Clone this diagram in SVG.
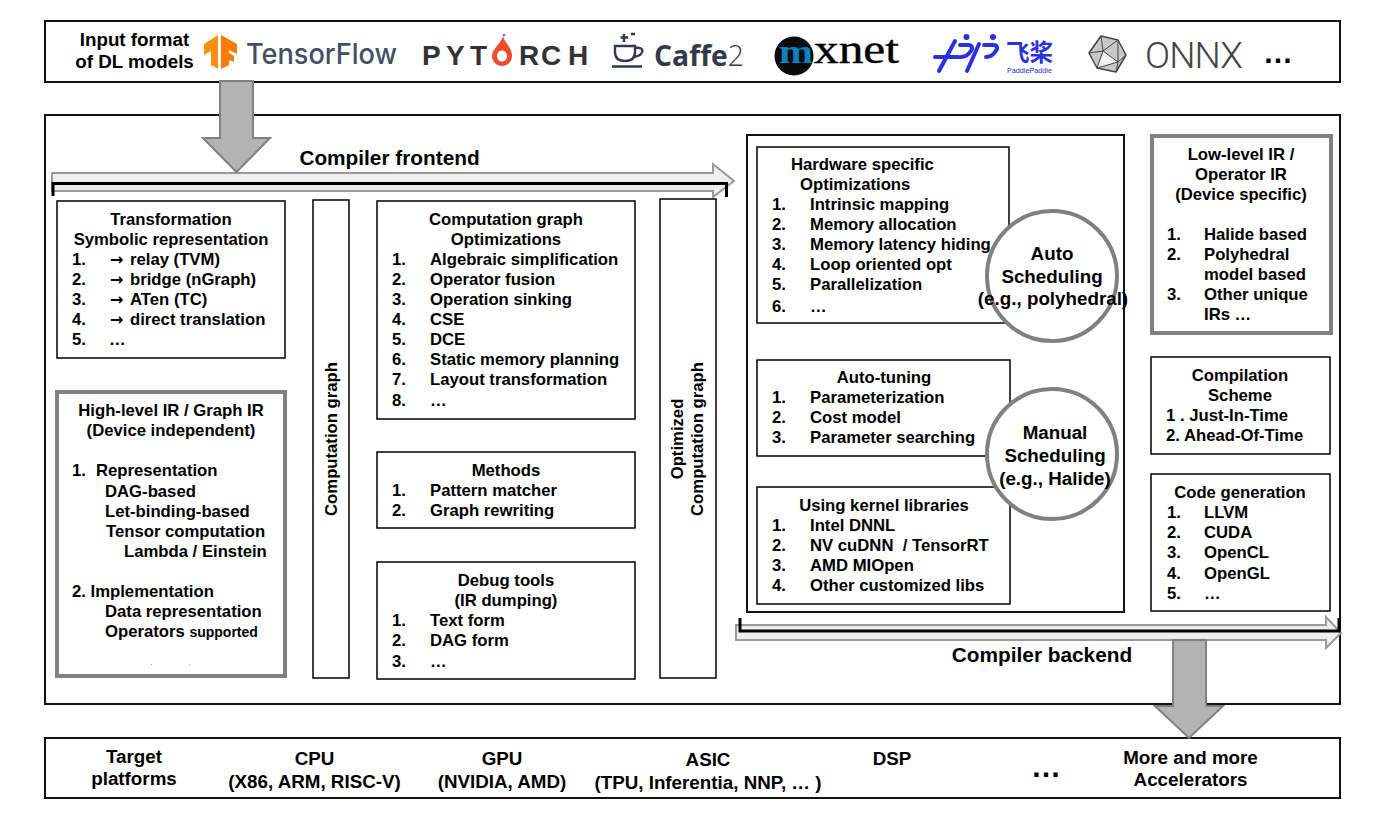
<svg xmlns="http://www.w3.org/2000/svg" width="1394" height="823" viewBox="0 0 1394 823">
<style>
text{font-family:"Liberation Sans",Arial,sans-serif;font-weight:700;font-size:16.7px;fill:#000;white-space:pre}
.c{text-anchor:middle}
.l{font-size:20.8px}
.m{font-size:18.8px}
.a{font-family:"DejaVu Sans",sans-serif;font-size:16px}
.box{fill:#fff;stroke:#000;stroke-width:1.5}
.frame{fill:#fff;stroke:#111;stroke-width:2}
.ir{fill:#fff;stroke:#808080;stroke-width:4}
.block{fill:#b3b3b3;stroke:#808080;stroke-width:2}
.band{fill:#eee;stroke:#9a9a9a;stroke-width:2}
.brk{fill:none;stroke:#000;stroke-width:3}
.circ{fill:#fff;stroke:#808080;stroke-width:4}
.pp{fill:none;stroke:#2932e1;stroke-width:4;stroke-linecap:round}
.pt{font-size:28px;fill:#333}
</style>
<rect width="1394" height="823" fill="#fff"/>
<g id="input-bar">
<rect class="frame" x="45" y="21" width="1295" height="61"/>
<text class="c m" x="134.500" y="46">Input format</text>
<text class="c m" x="134.500" y="68">of DL models</text>
</g>
<g id="logo-tensorflow">
<polygon points="204,44 218,35 218,69 211,65 211,51 204,55" fill="#ff8f0f"/>
<polygon points="221,35 237,44 237,54 229,50 229,53 234,56 234,62 229,60 229,65 221,69" fill="#ff7a00"/>
<text x="246" y="64" style="font-family:Inter,'Liberation Sans',sans-serif;font-weight:500;font-size:29px;fill:#425066" textLength="151" lengthAdjust="spacingAndGlyphs">TensorFlow</text>
</g>
<g id="logo-pytorch">
<text class="pt" x="422 446 470" y="65">PYT</text>
<path d="M503,36 C504,42 512,47 512,56 C512,62 507,66 502,66 C497,66 492,62 492,56 C492,49 500,45 503,36 Z M502,50.500 C499,50.500 497,53 497,56 C497,59 499,61.500 502,61.500 C505,61.500 507,59 507,56 C507,53 505,50.500 502,50.500 Z" fill="#ee4c2c" fill-rule="evenodd"/>
<circle cx="504" cy="35" r="1.300" fill="#9b4fc0"/>
<text class="pt" x="519 541 568" y="65">RCH</text>
</g>
<g id="logo-caffe2">
<path d="M615,46 H635 V52 C635,58 631,61 625,61 C619,61 615,58 615,52 Z M635,48 C645,46 645,55 634,57 M612,66.500 H642 M624,42 V34 M620.500,37.500 H628 M631,34 H635" fill="none" stroke="#323a4b" stroke-width="2.400"/>
<text x="654" y="66" style="font-family:'Open Sans','Liberation Sans',sans-serif;font-weight:700;font-size:29px;fill:#323a4b" textLength="90" lengthAdjust="spacingAndGlyphs">Caffe<tspan style="font-weight:300">2</tspan></text>
</g>
<g id="logo-mxnet">
<circle cx="794" cy="56" r="19.500" fill="#0a0a0a"/>
<text x="779" y="63" style="font-family:'Liberation Serif',serif;font-weight:700;font-size:34px;fill:#0f7fc0" textLength="34" lengthAdjust="spacingAndGlyphs">m</text>
<text x="814" y="63" style="font-family:'Liberation Serif',serif;font-weight:400;font-size:40px;fill:#000;stroke:#000;stroke-width:.4" textLength="85" lengthAdjust="spacingAndGlyphs">xnet</text>
</g>
<g id="logo-paddle">
<path class="pp" d="M935,57 H958 M955,41 L939,71 M960,45 H968 C973,45 973,49 970,52 C968,55 964,57 961,57 M979,44 L967,71 M984,45 H993 C998,45 998,49 995,52 C993,55 989,57 986,57"/>
<circle cx="966.500" cy="37" r="3" fill="#2932e1"/>
<circle cx="993" cy="37" r="3" fill="#2932e1"/>
<text x="1006" y="61" style="font-family:'Noto Sans CJK SC',sans-serif;font-weight:700;font-size:23.500px;fill:#2932e1">飞桨</text>
<text x="1007" y="73" style="font-weight:400;font-size:7.500px;fill:#2932e1" textLength="45" lengthAdjust="spacingAndGlyphs">PaddlePaddle</text>
</g>
<g id="logo-onnx">
<polygon points="1101,36 1118,40 1126,55 1116,72 1097,68 1089,53" fill="#c8c8c8" stroke="#444" stroke-width="1.500" stroke-linejoin="round"/>
<polygon points="1103,51 1118,62 1097,68" fill="#f4f4f4" stroke="#444" stroke-width="1"/>
<path d="M1101,36 L1103,51 L1118,40 M1089,53 L1103,51 M1118,40 L1118,62 L1126,55 M1118,62 L1116,72 M1101,36 L1089,53" fill="none" stroke="#444" stroke-width="1"/>
<text x="1145" y="68" style="font-family:Roboto,'Liberation Sans',sans-serif;font-weight:300;font-size:37px;fill:#444" textLength="98" lengthAdjust="spacing">ONNX</text>
<text x="1263" y="63" style="font-size:30px">…</text>
</g>
<g id="main-frame"><rect class="frame" x="45" y="115" width="1295" height="589"/></g>
<g id="target-bar">
<rect class="frame" x="45" y="738" width="1295" height="60"/>
<text class="c m" x="134" y="763">Target</text>
<text class="c m" x="134" y="785">platforms</text>
<text class="c m" x="314.500" y="765">CPU</text>
<text class="c m" x="314.500" y="788">(X86, ARM, RISC-V)</text>
<text class="c m" x="502" y="765">GPU</text>
<text class="c m" x="502" y="788">(NVIDIA, AMD)</text>
<text class="c m" x="708" y="766">ASIC</text>
<text class="c m" x="708" y="789">(TPU, Inferentia, NNP, … )</text>
<text class="c m" x="892" y="765">DSP</text>
<text x="1031" y="777" style="font-size:30px">…</text>
<text class="c m" x="1190.500" y="764">More and more</text>
<text class="c m" x="1190.500" y="786">Accelerators</text>
</g>
<g id="connectors">
<path class="band" d="M52,173 H713 V164 L734,181 L713,197 V191 H52 Z"/>
<path class="brk" d="M53,196 V183.500 H726.500 V197"/>
<path class="band" d="M736,625 H1326 V617 L1341,633 L1326,648 V640 H736 Z"/>
<path class="brk" d="M740,618 V631 H1339 V618"/>
<polygon class="block" points="220,81 253,81 253,138 270,138 236.500,172 203,138 220,138"/>
<polygon class="block" points="1173,640 1206,640 1206,706 1223,706 1189,738 1155,706 1173,706"/>
</g>
<g id="compiler-labels">
<text class="c l" x="389.500" y="165">Compiler frontend</text>
<text class="c l" x="1042" y="662">Compiler backend</text>
</g>
<g id="transformation">
<rect class="box" x="57" y="201" width="228" height="157"/>
<text class="c" x="171" y="225">Transformation</text>
<text class="c" x="171" y="245">Symbolic representation</text>
<text x="72" y="265">1.</text><text class="a" x="110" y="265">→</text><text x="130" y="265">relay (TVM)</text>
<text x="72" y="285">2.</text><text class="a" x="110" y="285">→</text><text x="130" y="285">bridge (nGraph)</text>
<text x="72" y="305">3.</text><text class="a" x="110" y="305">→</text><text x="130" y="305">ATen (TC)</text>
<text x="72" y="325">4.</text><text class="a" x="110" y="325">→</text><text x="130" y="325">direct translation</text>
<text x="72" y="345">5.</text><text x="109" y="345">…</text>
</g>
<g id="high-level-ir">
<rect class="ir" x="57" y="392" width="228" height="284"/>
<text class="c" x="171" y="416">High-level IR / Graph IR</text>
<text class="c" x="171" y="436">(Device independent)</text>
<text x="72" y="476">1.</text><text x="96" y="476">Representation</text>
<text x="105" y="497">DAG-based</text>
<text x="105" y="517">Let-binding-based</text>
<text x="106" y="537">Tensor computation</text>
<text x="124" y="557">Lambda / Einstein</text>
<text x="72" y="597">2. Implementation</text>
<text x="105" y="617">Data representation</text>
<text x="105" y="637">Operators <tspan style="font-size:14px">supported</tspan></text>
<rect x="151" y="664" width="1" height="1" fill="#999"/>
<rect x="189" y="664" width="1" height="1" fill="#cc0"/>
</g>
<g id="computation-graph">
<rect class="box" x="313" y="200" width="36" height="478"/>
<text class="c" transform="translate(337,439) rotate(-90)">Computation graph</text>
</g>
<g id="graph-optimizations">
<rect class="box" x="377" y="201" width="258" height="218"/>
<text class="c" x="506" y="225">Computation graph</text>
<text class="c" x="506" y="245">Optimizations</text>
<text x="392" y="265">1.</text><text x="430" y="265">Algebraic simplification</text>
<text x="392" y="285">2.</text><text x="430" y="285">Operator fusion</text>
<text x="392" y="305">3.</text><text x="430" y="305">Operation sinking</text>
<text x="392" y="325">4.</text><text x="430" y="325">CSE</text>
<text x="392" y="345">5.</text><text x="430" y="345">DCE</text>
<text x="392" y="365">6.</text><text x="430" y="365">Static memory planning</text>
<text x="392" y="385">7.</text><text x="430" y="385">Layout transformation</text>
<text x="392" y="406">8.</text><text x="430" y="406">…</text>
</g>
<g id="methods">
<rect class="box" x="377" y="452" width="258" height="76"/>
<text class="c" x="506" y="476">Methods</text>
<text x="392" y="496">1.</text><text x="430" y="496">Pattern matcher</text>
<text x="392" y="516">2.</text><text x="430" y="516">Graph rewriting</text>
</g>
<g id="debug-tools">
<rect class="box" x="377" y="562" width="258" height="117"/>
<text class="c" x="506" y="586">Debug tools</text>
<text class="c" x="506" y="606">(IR dumping)</text>
<text x="392" y="626">1.</text><text x="430" y="626">Text form</text>
<text x="392" y="646">2.</text><text x="430" y="646">DAG form</text>
<text x="392" y="667">3.</text><text x="430" y="667">…</text>
</g>
<g id="optimized-graph">
<rect class="box" x="660" y="199" width="56" height="479"/>
<text class="c" transform="translate(683,439) rotate(-90)">Optimized</text>
<text class="c" transform="translate(703,439) rotate(-90)">Computation graph</text>
</g>
<g id="backend-frame"><rect class="frame" x="747" y="135" width="377" height="477"/></g>
<g id="hardware-optimizations">
<rect class="box" x="757" y="147" width="252" height="176"/>
<text x="791" y="170">Hardware specific</text>
<text x="800" y="190">Optimizations</text>
<text x="772" y="210">1.</text><text x="810" y="210">Intrinsic mapping</text>
<text x="772" y="230">2.</text><text x="810" y="230">Memory allocation</text>
<text x="772" y="250">3.</text><text x="810" y="250">Memory latency hiding</text>
<text x="772" y="270">4.</text><text x="810" y="270">Loop oriented opt</text>
<text x="772" y="290">5.</text><text x="810" y="290">Parallelization</text>
<text x="772" y="312">6.</text><text x="810" y="312">…</text>
</g>
<g id="auto-tuning">
<rect class="box" x="757" y="360" width="253" height="96"/>
<text class="c" x="884" y="383">Auto-tuning</text>
<text x="772" y="403">1.</text><text x="810" y="403">Parameterization</text>
<text x="772" y="423">2.</text><text x="810" y="423">Cost model</text>
<text x="772" y="443">3.</text><text x="810" y="443">Parameter searching</text>
</g>
<g id="kernel-libraries">
<rect class="box" x="757" y="487" width="253" height="117"/>
<text class="c" x="884" y="511">Using kernel libraries</text>
<text x="772" y="531">1.</text><text x="810" y="531">Intel DNNL</text>
<text x="772" y="551">2.</text><text x="810" y="551">NV cuDNN  / TensorRT</text>
<text x="772" y="571">3.</text><text x="810" y="571">AMD MIOpen</text>
<text x="772" y="591">4.</text><text x="810" y="591">Other customized libs</text>
</g>
<g id="auto-scheduling">
<circle class="circ" cx="1052" cy="276" r="65"/>
<text class="c m" x="1052" y="260">Auto</text>
<text class="c m" x="1052" y="283">Scheduling</text>
<text class="c m" x="1053" y="305">(e.g., polyhedral)</text>
</g>
<g id="manual-scheduling">
<circle class="circ" cx="1052" cy="454" r="65"/>
<text class="c m" x="1055" y="439">Manual</text>
<text class="c m" x="1055" y="462">Scheduling</text>
<text class="c m" x="1055" y="485">(e.g., Halide)</text>
</g>
<g id="low-level-ir">
<rect class="ir" x="1152" y="136" width="179" height="197"/>
<text class="c" x="1241" y="160">Low-level IR /</text>
<text class="c" x="1241" y="180">Operator IR</text>
<text class="c" x="1241" y="200">(Device specific)</text>
<text x="1167" y="240">1.</text><text x="1204" y="240">Halide based</text>
<text x="1167" y="260">2.</text><text x="1204" y="260">Polyhedral</text>
<text x="1204" y="280">model based</text>
<text x="1167" y="300">3.</text><text x="1204" y="300">Other unique</text>
<text x="1204" y="320">IRs …</text>
</g>
<g id="compilation-scheme">
<rect class="box" x="1151" y="357" width="179" height="97"/>
<text class="c" x="1240" y="381">Compilation</text>
<text class="c" x="1240" y="401">Scheme</text>
<text x="1166" y="421">1 . Just-In-Time</text>
<text x="1166" y="441">2. Ahead-Of-Time</text>
</g>
<g id="code-generation">
<rect class="box" x="1151" y="474" width="179" height="137"/>
<text class="c" x="1240" y="498">Code generation</text>
<text x="1167" y="518">1.</text><text x="1204" y="518">LLVM</text>
<text x="1167" y="538">2.</text><text x="1204" y="538">CUDA</text>
<text x="1167" y="558">3.</text><text x="1204" y="558">OpenCL</text>
<text x="1167" y="579">4.</text><text x="1204" y="579">OpenGL</text>
<text x="1167" y="599">5.</text><text x="1204" y="599">…</text>
</g>
</svg>
